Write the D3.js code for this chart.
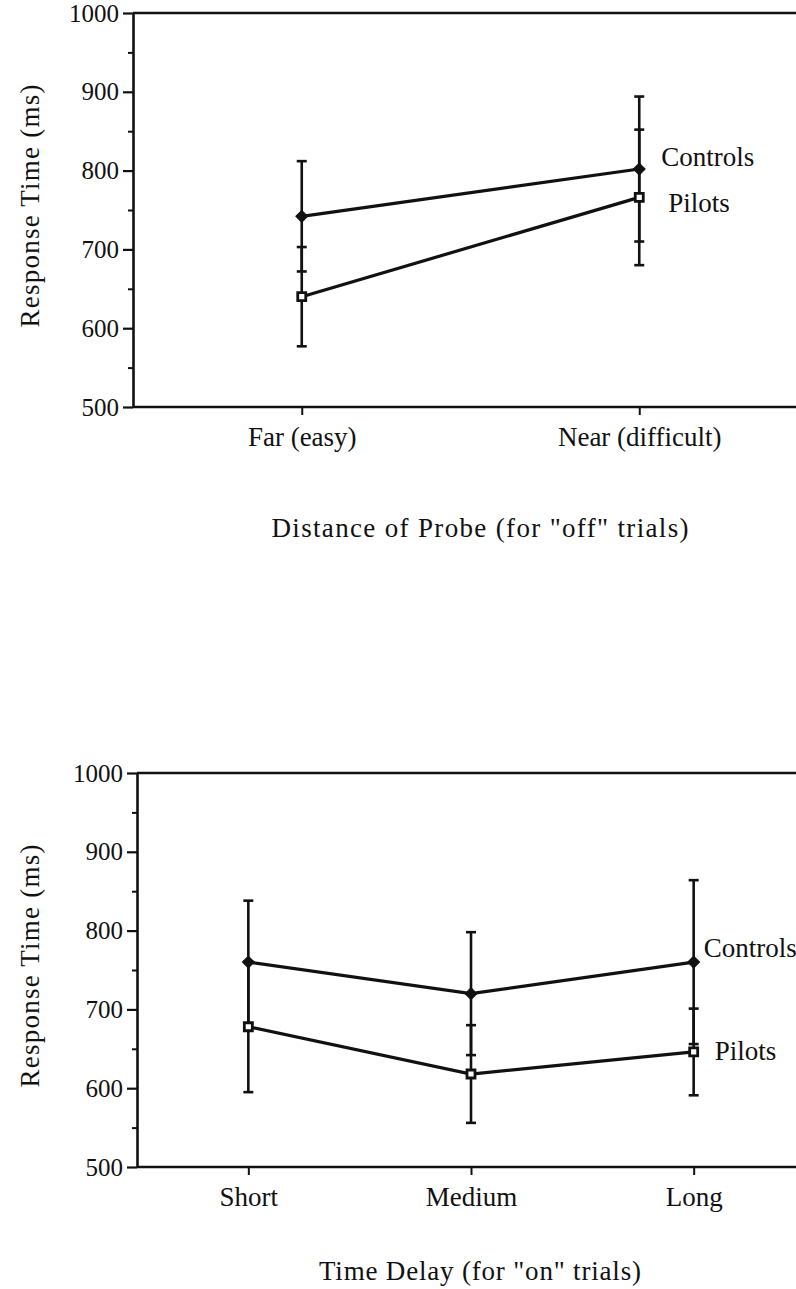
<!DOCTYPE html>
<html>
<head>
<meta charset="utf-8">
<script src="https://cdn.jsdelivr.net/npm/d3@7"></script>
<style>
  body { margin: 0; background: #fff; }
  svg { display: block; }
  text { font-family: "Liberation Serif", "Times New Roman", serif; fill: #111; }
</style>
</head>
<body>
<svg width="796" height="1289"></svg>
<script>
const width = 796;
const height = 1289;

// data (ms)
const seriesNames = ["Controls", "Pilots"];
const yTicks = [500, 600, 700, 800, 900, 1000];
const yMinorTicks = [550, 650, 750, 850, 950];

const topCategories = ["Far (easy)", "Near (difficult)"];
const topControls = [742, 802];
const topControlsErr = [70, 92];
const topPilots = [640, 766];
const topPilotsErr = [63, 86];

const bottomCategories = ["Short", "Medium", "Long"];
const bottomControls = [760, 720, 760];
const bottomControlsErr = [78, 78, 104];
const bottomPilots = [678, 618, 646];
const bottomPilotsErr = [83, 62, 55];

const svg = d3.select("svg");

function drawPanel(p) {
    const g = svg.append("g");

    const x = d3.scalePoint()
        .domain(p.categories)
        .range([p.left, p.right])
        .padding(0.5);

    const y = d3.scaleLinear()
        .domain([500, 1000])
        .range([p.bottom, p.top]);

    // frame lines top and bottom run off the right edge
    g.append("line")
        .attr("x1", p.left).attr("x2", width)
        .attr("y1", p.top).attr("y2", p.top)
        .attr("stroke", "#111").attr("stroke-width", 2.5);

    // x axis
    const xAxis = g.append("g")
        .attr("transform", `translate(0, ${p.bottom})`)
        .call(d3.axisBottom(x).tickSize(8).tickPadding(12));
    xAxis.select(".domain").remove();
    xAxis.append("line")
        .attr("x1", p.left).attr("x2", width)
        .attr("stroke", "#111").attr("stroke-width", 2.5);
    xAxis.selectAll(".tick line").attr("stroke", "#111").attr("stroke-width", 2);
    xAxis.selectAll(".tick text")
        .attr("fill", "#111")
        .style("font-size", "27px")
        .style("font-family", "Liberation Serif, serif");

    // minor ticks on y
    const yMinor = g.append("g")
        .attr("transform", `translate(${p.left}, 0)`)
        .call(d3.axisLeft(y).tickValues(yMinorTicks).tickSize(5).tickFormat(""));
    yMinor.select(".domain").remove();
    yMinor.selectAll(".tick line").attr("stroke", "#111").attr("stroke-width", 2);

    // y axis
    const yAxis = g.append("g")
        .attr("transform", `translate(${p.left}, 0)`)
        .call(d3.axisLeft(y).tickValues(yTicks).tickFormat(d3.format("d"))
            .tickSize(10).tickPadding(4).tickSizeOuter(0));
    yAxis.select(".domain").attr("stroke", "#111").attr("stroke-width", 2.6);
    yAxis.selectAll(".tick line").attr("stroke", "#111").attr("stroke-width", 2.2);
    yAxis.selectAll(".tick text")
        .attr("fill", "#111")
        .style("font-size", "25px")
        .style("font-family", "Liberation Serif, serif");

    // y label
    g.append("text")
        .attr("transform", `translate(39, ${(p.top + p.bottom) / 2 - 4}) rotate(-90)`)
        .attr("text-anchor", "middle")
        .attr("font-size", "27px")
        .attr("textLength", 243)
        .attr("lengthAdjust", "spacing")
        .text("Response Time (ms)");

    // x label
    g.append("text")
        .attr("x", 480)
        .attr("y", p.bottom + p.titleGap)
        .attr("text-anchor", "middle")
        .attr("font-size", "27px")
        .attr("textLength", p.titleLength)
        .attr("lengthAdjust", "spacing")
        .text(p.title);

    const series = [
        {name: seriesNames[0], values: p.controls, err: p.controlsErr, filled: true},
        {name: seriesNames[1], values: p.pilots, err: p.pilotsErr, filled: false}
    ];

    // error bars first
    series.forEach(s => {
        const bars = g.append("g");
        s.values.forEach((v, i) => {
            const cx = x(p.categories[i]);
            bars.append("line")
                .attr("x1", cx).attr("x2", cx)
                .attr("y1", y(v - s.err[i])).attr("y2", y(v + s.err[i]))
                .attr("stroke", "#111").attr("stroke-width", 2.6);
            [v - s.err[i], v + s.err[i]].forEach(e => {
                bars.append("line")
                    .attr("x1", cx - 5).attr("x2", cx + 5)
                    .attr("y1", y(e)).attr("y2", y(e))
                    .attr("stroke", "#111").attr("stroke-width", 2.6);
            });
        });
    });

    const line = d3.line()
        .x((d, i) => x(p.categories[i]))
        .y(d => y(d));

    series.forEach(s => {
        g.append("path")
            .datum(s.values)
            .attr("fill", "none")
            .attr("stroke", "#111")
            .attr("stroke-width", 3.2)
            .attr("d", line);
    });

    // markers
    series.forEach(s => {
        g.selectAll(null)
            .data(s.values)
            .join("path")
            .attr("transform", (d, i) => `translate(${x(p.categories[i])}, ${y(d)}) rotate(${s.filled ? 45 : 0})`)
            .attr("d", d3.symbol(d3.symbolSquare, s.filled ? 70 : 64))
            .attr("fill", s.filled ? "#111" : "#fff")
            .attr("stroke", "#111")
            .attr("stroke-width", s.filled ? 1 : 2.8);
    });

    // series labels beside the last point
    series.forEach((s, k) => {
        const last = s.values.length - 1;
        g.append("text")
            .attr("x", x(p.categories[last]) + p.labelOffsets[k][0])
            .attr("y", y(s.values[last]) + p.labelOffsets[k][1])
            .attr("font-size", "27px")
            .text(s.name);
    });
}

drawPanel({
    categories: topCategories,
    controls: topControls, controlsErr: topControlsErr,
    pilots: topPilots, pilotsErr: topPilotsErr,
    left: 133, right: 808, top: 13, bottom: 407,
    title: "Distance of Probe (for \"off\" trials)",
    titleGap: 130, titleLength: 417,
    labelOffsets: [[22, -3], [29, 15]]
});

drawPanel({
    categories: bottomCategories,
    controls: bottomControls, controlsErr: bottomControlsErr,
    pilots: bottomPilots, pilotsErr: bottomPilotsErr,
    left: 137, right: 805, top: 773, bottom: 1167,
    title: "Time Delay (for \"on\" trials)",
    titleGap: 113, titleLength: 322,
    labelOffsets: [[10, -5], [21, 8]]
});
</script>
</body>
</html>
